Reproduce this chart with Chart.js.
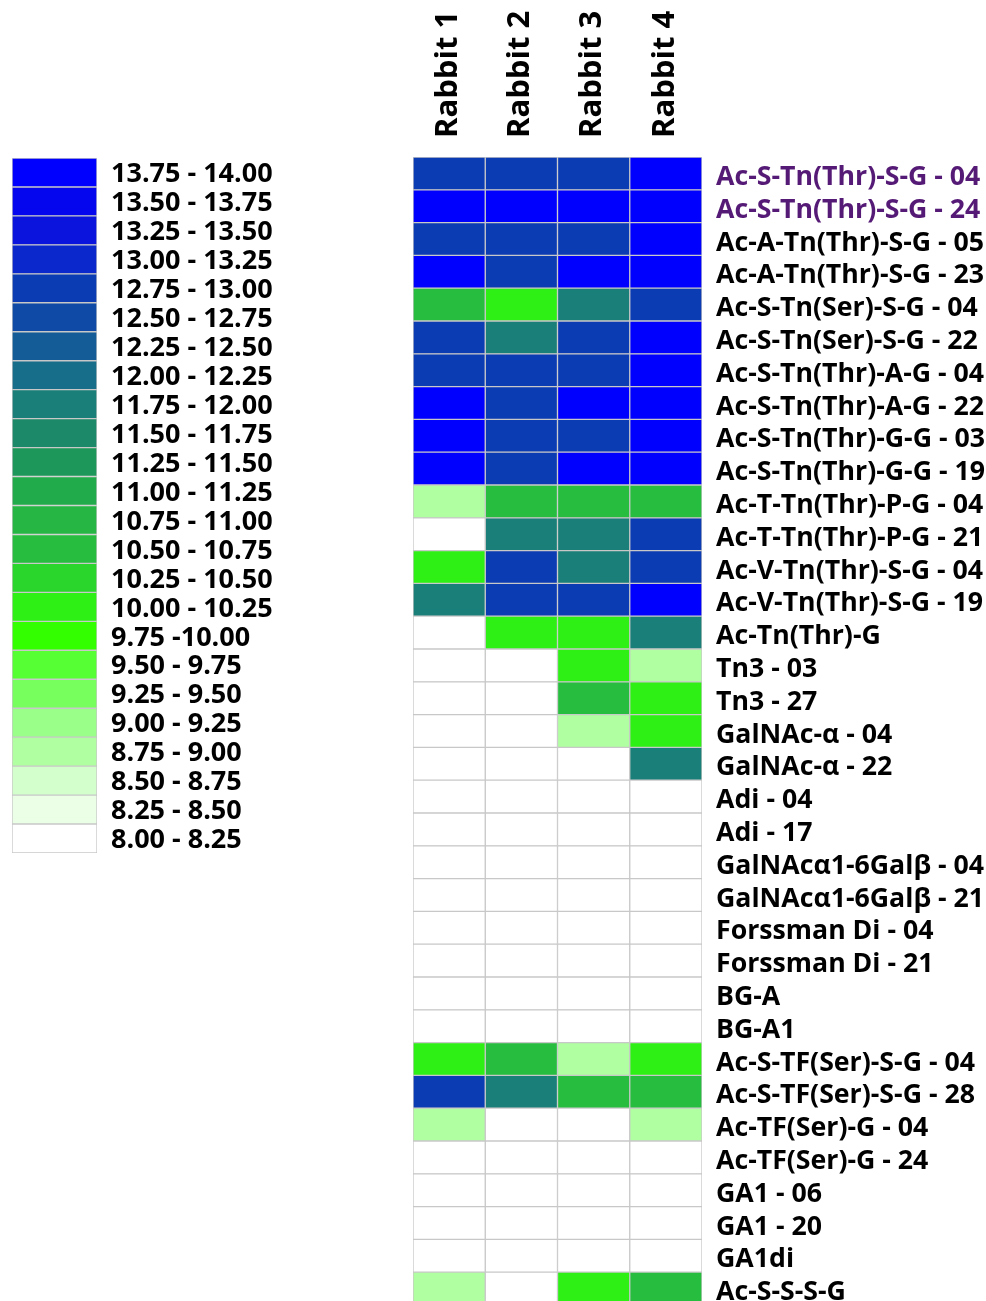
<!DOCTYPE html>
<html>
<head>
<meta charset="utf-8">
<script src="https://cdn.jsdelivr.net/npm/chart.js@4/dist/chart.umd.min.js"></script>
<style>
  html, body { margin: 0; padding: 0; background: #ffffff; width: 986px; height: 1301px; overflow: hidden; }
  #legendBox { position: absolute; left: 12px; top: 158px; }
  #heatBox { position: absolute; left: 413px; top: 0px; }
</style>
</head>
<body>
<div id="legendBox"><canvas id="legendChart" width="285" height="695"></canvas></div>
<div id="heatBox"><canvas id="heatChart" width="573" height="1305"></canvas></div>
<script>
// Colour scale bins, highest first
const binLabels = [
  '13.75 - 14.00', '13.50 - 13.75', '13.25 - 13.50', '13.00 - 13.25',
  '12.75 - 13.00', '12.50 - 12.75', '12.25 - 12.50', '12.00 - 12.25',
  '11.75 - 12.00', '11.50 - 11.75', '11.25 - 11.50', '11.00 - 11.25',
  '10.75 - 11.00', '10.50 - 10.75', '10.25 - 10.50', '10.00 - 10.25',
  '9.75 -10.00', '9.50 - 9.75', '9.25 - 9.50', '9.00 - 9.25',
  '8.75 - 9.00', '8.50 - 8.75', '8.25 - 8.50', '8.00 - 8.25'
];
const binLower = [13.75, 13.5, 13.25, 13.0, 12.75, 12.5, 12.25, 12.0, 11.75, 11.5, 11.25, 11.0,
                  10.75, 10.5, 10.25, 10.0, 9.75, 9.5, 9.25, 9.0, 8.75, 8.5, 8.25, 8.0];
const binColors = [
  '#0000ff', '#0606ee', '#0a14dc', '#0b28cc',
  '#0c3cb4', '#0f4aa6', '#135c98', '#166e8a',
  '#1a7f78', '#1c8a68', '#1e975a', '#22ab4a',
  '#25b644', '#27be3f', '#2ad62c', '#2ef014',
  '#33ff00', '#55ff33', '#77ff5e', '#99ff88',
  '#b0ffa0', '#d2ffcc', '#eaffe6', '#ffffff'
];

// Rabbit sera (columns)
const rabbits = ['Rabbit 1', 'Rabbit 2', 'Rabbit 3', 'Rabbit 4'];

// Glycopeptide / glycan antigens (rows)
const antigens = [
  'Ac-S-Tn(Thr)-S-G - 04', 'Ac-S-Tn(Thr)-S-G - 24',
  'Ac-A-Tn(Thr)-S-G - 05', 'Ac-A-Tn(Thr)-S-G - 23',
  'Ac-S-Tn(Ser)-S-G - 04', 'Ac-S-Tn(Ser)-S-G - 22',
  'Ac-S-Tn(Thr)-A-G - 04', 'Ac-S-Tn(Thr)-A-G - 22',
  'Ac-S-Tn(Thr)-G-G - 03', 'Ac-S-Tn(Thr)-G-G - 19',
  'Ac-T-Tn(Thr)-P-G - 04', 'Ac-T-Tn(Thr)-P-G - 21',
  'Ac-V-Tn(Thr)-S-G - 04', 'Ac-V-Tn(Thr)-S-G - 19',
  'Ac-Tn(Thr)-G', 'Tn3 - 03', 'Tn3 - 27',
  'GalNAc-\u03b1 - 04', 'GalNAc-\u03b1 - 22',
  'Adi - 04', 'Adi - 17',
  'GalNAc\u03b11-6Gal\u03b2 - 04', 'GalNAc\u03b11-6Gal\u03b2 - 21',
  'Forssman Di - 04', 'Forssman Di - 21',
  'BG-A', 'BG-A1',
  'Ac-S-TF(Ser)-S-G - 04', 'Ac-S-TF(Ser)-S-G - 28',
  'Ac-TF(Ser)-G - 04', 'Ac-TF(Ser)-G - 24',
  'GA1 - 06', 'GA1 - 20', 'GA1di', 'Ac-S-S-S-G'
];

// Signal (log2) per antigen, one array per rabbit
const rabbit1 = [12.85, 13.9, 12.85, 13.9, 10.6, 12.85, 12.85, 13.9, 13.9, 13.9,
                 8.85, 8.1, 10.1, 11.85, 8.1, 8.1, 8.1, 8.1, 8.1, 8.1, 8.1, 8.1, 8.1,
                 8.1, 8.1, 8.1, 8.1, 10.1, 12.85, 8.85, 8.1, 8.1, 8.1, 8.1, 8.85];
const rabbit2 = [12.85, 13.9, 12.85, 12.85, 10.1, 11.85, 12.85, 12.85, 12.85, 12.85,
                 10.6, 11.85, 12.85, 12.85, 10.1, 8.1, 8.1, 8.1, 8.1, 8.1, 8.1, 8.1, 8.1,
                 8.1, 8.1, 8.1, 8.1, 10.6, 11.85, 8.1, 8.1, 8.1, 8.1, 8.1, 8.1];
const rabbit3 = [12.85, 13.9, 12.85, 13.9, 11.85, 12.85, 12.85, 13.9, 12.85, 13.9,
                 10.6, 11.85, 11.85, 12.85, 10.1, 10.1, 10.6, 8.85, 8.1, 8.1, 8.1, 8.1, 8.1,
                 8.1, 8.1, 8.1, 8.1, 8.85, 10.6, 8.1, 8.1, 8.1, 8.1, 8.1, 10.1];
const rabbit4 = [13.9, 13.9, 13.9, 13.9, 12.85, 13.9, 13.9, 13.9, 13.9, 13.9,
                 10.6, 12.85, 12.85, 13.9, 11.85, 8.85, 10.1, 10.1, 11.85, 8.1, 8.1, 8.1, 8.1,
                 8.1, 8.1, 8.1, 8.1, 10.1, 10.6, 8.85, 8.1, 8.1, 8.1, 8.1, 10.6];

const highlighted = ['Ac-S-Tn(Thr)-S-G - 04', 'Ac-S-Tn(Thr)-S-G - 24'];

const FONT_FAMILY = '"Open Sans", "Noto Sans", sans-serif';
const CELL_BORDER = '#c8c8c8';

function colorFor(v) {
  for (let i = 0; i < binLower.length; i++) {
    if (v >= binLower[i]) return binColors[i];
  }
  return binColors[binColors.length - 1];
}

// Keep the plot area flush with the canvas edges (no label overhang padding)
function noEdgePadding(scale) {
  scale.paddingTop = 0;
  scale.paddingBottom = 0;
  scale.paddingLeft = 0;
  scale.paddingRight = 0;
}

// ---- colour key ----
new Chart(document.getElementById('legendChart'), {
  type: 'bar',
  data: {
    labels: binLabels,
    datasets: [{
      data: binLabels.map(() => [0, 1]),
      backgroundColor: binColors,
      borderColor: CELL_BORDER,
      borderWidth: 1,
      borderSkipped: false,
      barPercentage: 1,
      categoryPercentage: 1
    }]
  },
  options: {
    indexAxis: 'y',
    responsive: false,
    animation: false,
    layout: { padding: 0 },
    plugins: { legend: { display: false }, tooltip: { enabled: false } },
    scales: {
      x: { type: 'linear', min: 0, max: 1, display: false },
      y: {
        position: 'right',
        grid: { display: false, drawTicks: false },
        border: { display: false },
        ticks: {
          padding: 14,
          labelOffset: 2,
          autoSkip: false,
          color: '#000000',
          font: { family: FONT_FAMILY, size: 27, weight: 'bold' }
        },
        afterFit: (scale) => { scale.width = 285 - 85; noEdgePadding(scale); }
      }
    }
  }
});

// ---- heat map ----
const series = [rabbit1, rabbit2, rabbit3, rabbit4];
new Chart(document.getElementById('heatChart'), {
  type: 'bar',
  data: {
    labels: antigens,
    datasets: series.map((vals, c) => ({
      label: rabbits[c],
      data: vals.map(() => [c, c + 1]),
      backgroundColor: vals.map(colorFor),
      borderColor: CELL_BORDER,
      borderWidth: 1,
      borderSkipped: false,
      barPercentage: 1,
      categoryPercentage: 1,
      grouped: false
    }))
  },
  options: {
    indexAxis: 'y',
    responsive: false,
    animation: false,
    layout: { padding: 0 },
    plugins: { legend: { display: false }, tooltip: { enabled: false } },
    scales: {
      x: { type: 'linear', min: 0, max: rabbits.length, display: false },
      x2: {
        type: 'category',
        labels: rabbits,
        position: 'top',
        offset: true,
        grid: { display: false, drawTicks: false },
        border: { display: false },
        ticks: {
          minRotation: 90,
          maxRotation: 90,
          padding: 19,
          labelOffset: 36,
          color: '#000000',
          font: { family: FONT_FAMILY, size: 31, weight: 'bold', lineHeight: 1.2 }
        },
        afterFit: (scale) => { scale.height = 157; noEdgePadding(scale); }
      },
      y: {
        position: 'right',
        grid: { display: false, drawTicks: false },
        border: { display: false },
        ticks: {
          padding: 14,
          labelOffset: 4,
          autoSkip: false,
          color: (ctx) => highlighted.includes(antigens[ctx.index]) ? '#551a75' : '#000000',
          font: { family: FONT_FAMILY, size: 26.7, weight: 'bold' }
        },
        afterFit: (scale) => { scale.width = 573 - 289; noEdgePadding(scale); }
      }
    }
  }
});
</script>
</body>
</html>
